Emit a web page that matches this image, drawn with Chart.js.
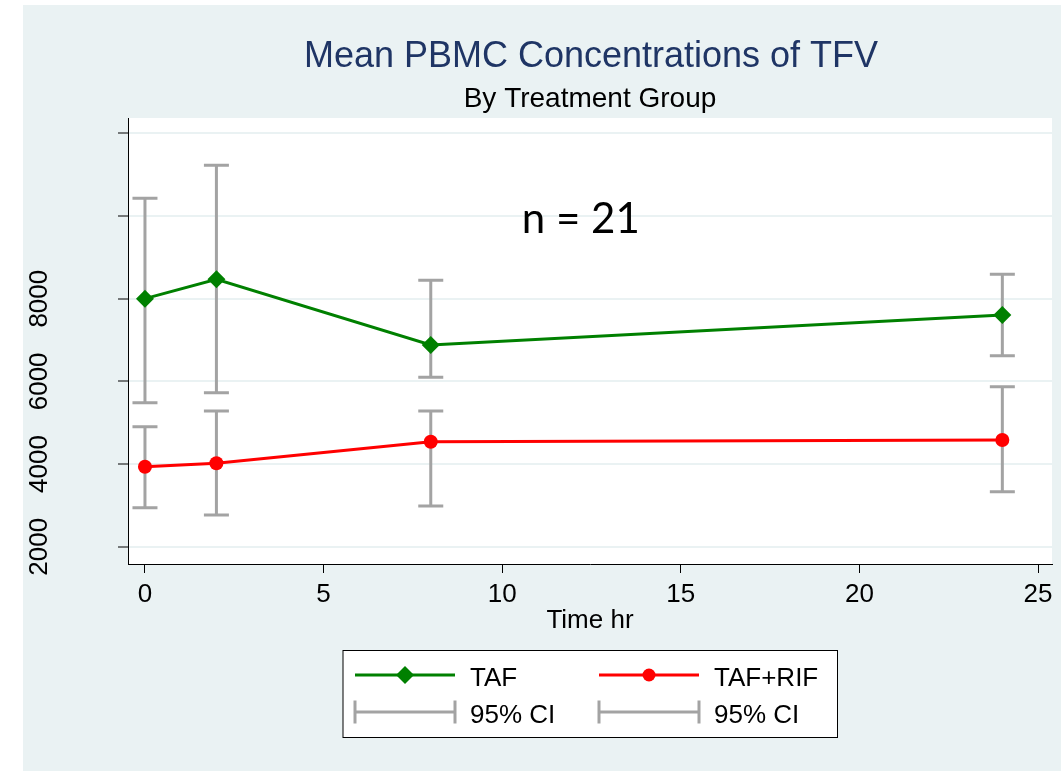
<!DOCTYPE html>
<html><head><meta charset="utf-8">
<script src="https://cdn.jsdelivr.net/npm/chart.js@4.4.1/dist/chart.umd.min.js"></script>
<style>html,body{margin:0;padding:0;background:#fff;}#wrap{position:relative;width:1061px;height:771px;}</style>
</head><body><div id="wrap"><canvas id="c" width="1061" height="771"></canvas></div>
<script>
// ---- data ----
const hours = [0, 2, 8, 24];
const tafMean = [8000, 8470, 6880, 7606];
const tafLower = [5484, 5726, 6098, 6621];
const tafUpper = [10430, 11228, 8446, 8590];
const rifMean = [3936, 4018, 4540, 4581];
const rifLower = [2944, 2767, 2985, 3331];
const rifUpper = [4903, 5283, 5283, 5871];
const yTicks = [2000, 4000, 6000, 8000, 10000, 12000];
const yTickLabels = ['2000', '4000', '6000', '8000', '', ''];
const xTicks = [0, 5, 10, 15, 20, 25];
const seriesNames = ['TAF', 'TAF+RIF'];
const ciLabel = '95% CI';
const titleText = 'Mean PBMC Concentrations of TFV';
const subtitleText = 'By Treatment Group';
const noteText = 'n = 21';
const xTitle = 'Time hr';

const FONT = '"Liberation Sans", Arial, Helvetica, sans-serif';
const GREEN = '#008000', RED = '#ff0000', GRAY = '#a3a3a3', BG = '#eaf2f3';

const bounds = [[tafLower, tafUpper], [rifLower, rifUpper]];

const bgPlugin = {
  id: 'bg',
  beforeDraw(chart) {
    const ctx = chart.ctx, a = chart.chartArea;
    ctx.save();
    ctx.fillStyle = '#fff';
    ctx.fillRect(0, 0, chart.width, chart.height);
    ctx.fillStyle = BG;
    ctx.fillRect(23, 5, chart.width - 23, chart.height - 5);
    ctx.fillStyle = '#fff';
    ctx.fillRect(a.left, a.top, a.right - a.left, a.bottom - a.top);
    ctx.restore();
  }
};

const errPlugin = {
  id: 'errbars',
  beforeDatasetsDraw(chart) {
    const ctx = chart.ctx, xs = chart.scales.x, ys = chart.scales.y;
    ctx.save();
    ctx.strokeStyle = GRAY;
    ctx.lineWidth = 3;
    ctx.lineCap = 'butt';
    bounds.forEach(([lo, hi]) => {
      hours.forEach((h, j) => {
        const x = xs.getPixelForValue(h);
        const y1 = ys.getPixelForValue(lo[j]);
        const y2 = ys.getPixelForValue(hi[j]);
        ctx.beginPath();
        ctx.moveTo(x, y1); ctx.lineTo(x, y2);
        ctx.moveTo(x - 12.5, y1); ctx.lineTo(x + 12.5, y1);
        ctx.moveTo(x - 12.5, y2); ctx.lineTo(x + 12.5, y2);
        ctx.stroke();
      });
    });
    ctx.restore();
  }
};

const textPlugin = {
  id: 'texts',
  afterDraw(chart) {
    const ctx = chart.ctx, a = chart.chartArea, ys = chart.scales.y, xs = chart.scales.x;
    const cx = (a.left + a.right) / 2;
    ctx.save();
    // titles
    ctx.textAlign = 'center';
    ctx.textBaseline = 'alphabetic';
    ctx.fillStyle = '#1f3565';
    ctx.font = '36px ' + FONT;
    ctx.fillText(titleText, cx + 1, 66.5);
    ctx.fillStyle = '#000';
    ctx.font = '28px ' + FONT;
    ctx.fillText(subtitleText, cx, 107);
    // note
    ctx.font = '42px Lato, "Open Sans", sans-serif';
    ctx.fillText(noteText, xs.getPixelForValue(12.2), 232.5);
    // y tick labels (rotated)
    ctx.font = '26px ' + FONT;
    yTicks.forEach((v, i) => {
      if (!yTickLabels[i]) return;
      ctx.save();
      ctx.translate(47, ys.getPixelForValue(v));
      ctx.rotate(-Math.PI / 2);
      ctx.textAlign = 'center';
      ctx.fillText(yTickLabels[i], 0, 0);
      ctx.restore();
    });
    // legend
    const L = 343, T = 650.5, R = 837.5, B = 737.5;
    ctx.fillStyle = '#fff';
    ctx.fillRect(L, T, R - L, B - T);
    ctx.strokeStyle = '#000';
    ctx.lineWidth = 1;
    ctx.strokeRect(L, T, R - L, B - T);
    const cols = [355, 599];
    const row1 = 675, row2 = 712;
    cols.forEach((x0, k) => {
      const col = k === 0 ? GREEN : RED;
      ctx.strokeStyle = col;
      ctx.lineWidth = 3;
      ctx.beginPath(); ctx.moveTo(x0, row1); ctx.lineTo(x0 + 100, row1); ctx.stroke();
      ctx.fillStyle = col;
      const mx = x0 + 50;
      if (k === 0) {
        ctx.beginPath();
        ctx.moveTo(mx, row1 - 9); ctx.lineTo(mx + 9, row1); ctx.lineTo(mx, row1 + 9); ctx.lineTo(mx - 9, row1);
        ctx.closePath(); ctx.fill();
      } else {
        ctx.beginPath(); ctx.arc(mx, row1, 6.5, 0, Math.PI * 2); ctx.fill();
      }
      ctx.strokeStyle = GRAY;
      ctx.beginPath();
      ctx.moveTo(x0, row2); ctx.lineTo(x0 + 100, row2);
      ctx.moveTo(x0, row2 - 11.5); ctx.lineTo(x0, row2 + 11.5);
      ctx.moveTo(x0 + 100, row2 - 11.5); ctx.lineTo(x0 + 100, row2 + 11.5);
      ctx.stroke();
      ctx.fillStyle = '#000';
      ctx.font = '26px ' + FONT;
      ctx.textAlign = 'left';
      ctx.fillText(seriesNames[k], x0 + 115, 685.5);
      ctx.fillText(ciLabel, x0 + 115, 723);
    });
    ctx.restore();
  }
};

new Chart(document.getElementById('c'), {
  type: 'line',
  data: {
    datasets: [
      {
        label: seriesNames[0],
        data: hours.map((h, i) => ({x: h, y: tafMean[i]})),
        borderColor: GREEN, backgroundColor: GREEN, borderWidth: 3,
        pointStyle: 'rectRot', pointRadius: 9, pointBorderWidth: 0,
        pointBackgroundColor: GREEN, tension: 0, fill: false
      },
      {
        label: seriesNames[1],
        data: hours.map((h, i) => ({x: h, y: rifMean[i]})),
        borderColor: RED, backgroundColor: RED, borderWidth: 3,
        pointStyle: 'circle', pointRadius: 7, pointBorderWidth: 0,
        pointBackgroundColor: RED, tension: 0, fill: false
      }
    ]
  },
  options: {
    responsive: false,
    animation: false,
    devicePixelRatio: 1,
    layout: {padding: {left: 118, top: 118, right: 8, bottom: 127}},
    plugins: {legend: {display: false}, tooltip: {enabled: false}, title: {display: false}},
    scales: {
      x: {
        type: 'linear', min: -0.475, max: 25.39,
        afterBuildTicks: s => { s.ticks = xTicks.map(v => ({value: v})); },
        afterFit: s => { s.height = 80; },
        grid: {drawOnChartArea: false, color: '#000', tickColor: '#000', tickLength: 9, lineWidth: 1},
        border: {display: true, color: '#000', width: 1},
        ticks: {color: '#000', font: {family: FONT, size: 26}, padding: 6, maxRotation: 0, autoSkip: false},
        title: {display: true, text: xTitle, color: '#000', font: {family: FONT, size: 26}, padding: {top: 0, bottom: 8}}
      },
      y: {
        type: 'linear', min: 1582, max: 12370,
        afterBuildTicks: s => { s.ticks = yTicks.map(v => ({value: v})); },
        afterFit: s => { s.width = 10; },
        grid: {color: BG, lineWidth: 2, tickColor: '#000', tickWidth: 1, tickLength: 10},
        border: {display: true, color: '#000', width: 1},
        ticks: {display: false}
      }
    }
  },
  plugins: [bgPlugin, errPlugin, textPlugin]
});
</script>
</body></html>
